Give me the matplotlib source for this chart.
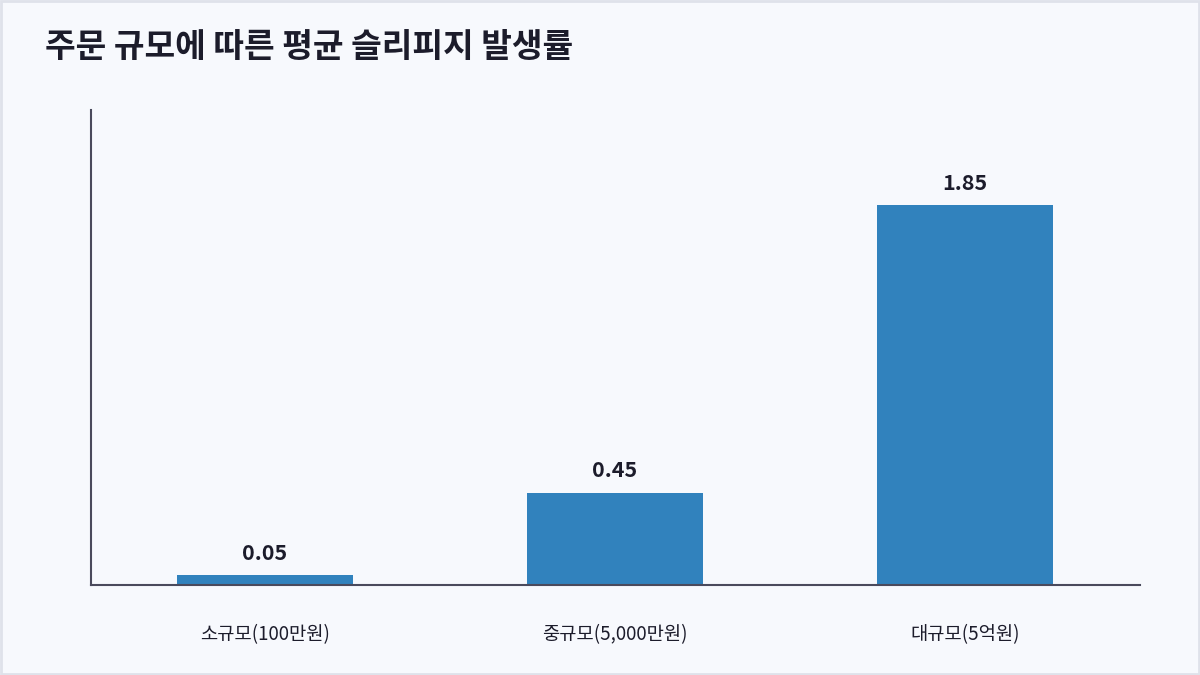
import matplotlib
matplotlib.use("Agg")
import matplotlib.pyplot as plt
from matplotlib.patches import Rectangle

plt.rcParams["font.family"] = ["Noto Sans CJK KR", "DejaVu Sans"]

categories = ["소규모(100만원)", "중규모(5,000만원)", "대규모(5억원)"]
slippage = [0.05, 0.45, 1.85]

BG = "#f7f9fd"
BAR = "#3182bd"
TEXT = "#1c1c2b"
AXIS = "#4a4a5c"

fig = plt.figure(figsize=(12, 6.75), dpi=100, facecolor=BG)
fig.patches.append(Rectangle((0.001, 0.001), 0.998, 0.997, transform=fig.transFigure,
                             fill=False, edgecolor="#dfe2ea", linewidth=2))

ax = fig.add_axes([91 / 1200, 1 - 585 / 675, (1140 - 91) / 1200, (585 - 110) / 675])
ax.set_facecolor(BG)

x = range(len(categories))
ax.bar(x, slippage, width=0.503, color=BAR)

ax.set_xlim(-0.497, 2.5)
ax.set_ylim(0, 2.3125)

for xi, v in zip(x, slippage):
    ax.annotate(f"{v:.2f}", (xi, v), xytext=(0, 8), textcoords="offset points",
                ha="center", va="bottom", fontsize=15.5, fontweight="bold", color=TEXT)

ax.set_xticks(list(x))
ax.set_xticklabels(categories, fontsize=13.5, color=TEXT)
ax.tick_params(axis="x", length=0, pad=28)
ax.set_yticks([])

for side in ["top", "right"]:
    ax.spines[side].set_visible(False)
for side in ["left", "bottom"]:
    ax.spines[side].set_color(AXIS)
    ax.spines[side].set_linewidth(1.5)

fig.text(45 / 1200, 1 - 47 / 675, "주문 규모에 따른 평균 슬리피지 발생률",
         fontsize=24, fontweight="bold", color=TEXT, ha="left", va="center")

fig.savefig("out.png", dpi=100, facecolor=BG)
